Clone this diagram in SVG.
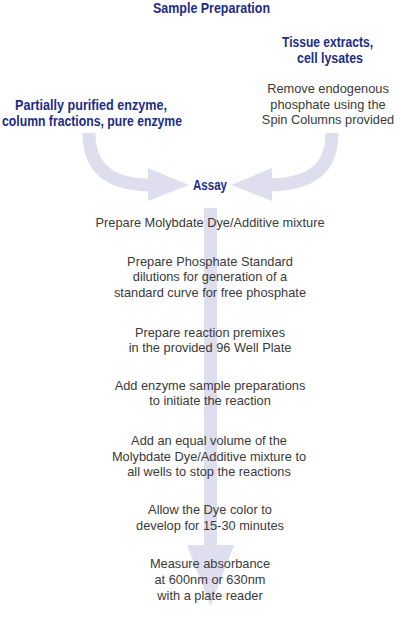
<svg xmlns="http://www.w3.org/2000/svg" width="400" height="620" viewBox="0 0 400 620">
<style>
.h{font-family:"Liberation Sans","Arial",sans-serif;font-weight:bold;font-size:14.5px;fill:#1b2d86;text-anchor:middle}
.t{font-family:"Liberation Sans","Arial",sans-serif;font-size:12.8px;fill:#3a3a3a;text-anchor:middle}
.shaft{fill:none;stroke:#dedeee;stroke-width:13}
.head{fill:#dedeee}
</style>
<rect width="400" height="620" fill="#fff"/>
<g id="connectors">
<path class="shaft" d="M89,133 C89,172 115,185 152,185"/>
<polygon class="head" points="148,168 189,185 148,201"/>
<path class="shaft" d="M332,133 C332,172 306,185 268,185"/>
<polygon class="head" points="272,168 231,185 272,201"/>
<path class="shaft" d="M210.5,208 L210.5,547"/>
<polygon class="head" points="187,545 234,545 210.5,606"/>
</g>
<g id="title"><text class="h" x="211.5" y="13" textLength="117" lengthAdjust="spacingAndGlyphs">Sample Preparation</text></g>
<g id="tissue"><text class="h" x="327.5" y="47" textLength="91" lengthAdjust="spacingAndGlyphs">Tissue extracts,</text><text class="h" x="330" y="63" textLength="66" lengthAdjust="spacingAndGlyphs">cell lysates</text></g>
<g id="remove"><text class="t" x="328" y="93">Remove endogenous</text><text class="t" x="328" y="109">phosphate using the</text><text class="t" x="328" y="124">Spin Columns provided</text></g>
<g id="partial"><text class="h" x="91" y="110" textLength="152" lengthAdjust="spacingAndGlyphs">Partially purified enzyme,</text><text class="h" x="92" y="126" textLength="180" lengthAdjust="spacingAndGlyphs">column fractions, pure enzyme</text></g>
<g id="assay"><text class="h" x="210" y="190" textLength="34" lengthAdjust="spacingAndGlyphs">Assay</text></g>
<g id="step1"><text class="t" x="210" y="227">Prepare Molybdate Dye/Additive mixture</text></g>
<g id="step2"><text class="t" x="210" y="266">Prepare Phosphate Standard</text><text class="t" x="210" y="281">dilutions for generation of a</text><text class="t" x="210" y="297">standard curve for free phosphate</text></g>
<g id="step3"><text class="t" x="210" y="337">Prepare reaction premixes</text><text class="t" x="210" y="352">in the provided 96 Well Plate</text></g>
<g id="step4"><text class="t" x="210" y="390">Add enzyme sample preparations</text><text class="t" x="210" y="405">to initiate the reaction</text></g>
<g id="step5"><text class="t" x="209" y="445">Add an equal volume of the</text><text class="t" x="209" y="461">Molybdate Dye/Additive mixture to</text><text class="t" x="209" y="476">all wells to stop the reactions</text></g>
<g id="step6"><text class="t" x="210" y="514">Allow the Dye color to</text><text class="t" x="210" y="530">develop for 15-30 minutes</text></g>
<g id="step7"><text class="t" x="210" y="568">Measure absorbance</text><text class="t" x="210" y="584">at 600nm or 630nm</text><text class="t" x="210" y="600">with a plate reader</text></g>
</svg>
